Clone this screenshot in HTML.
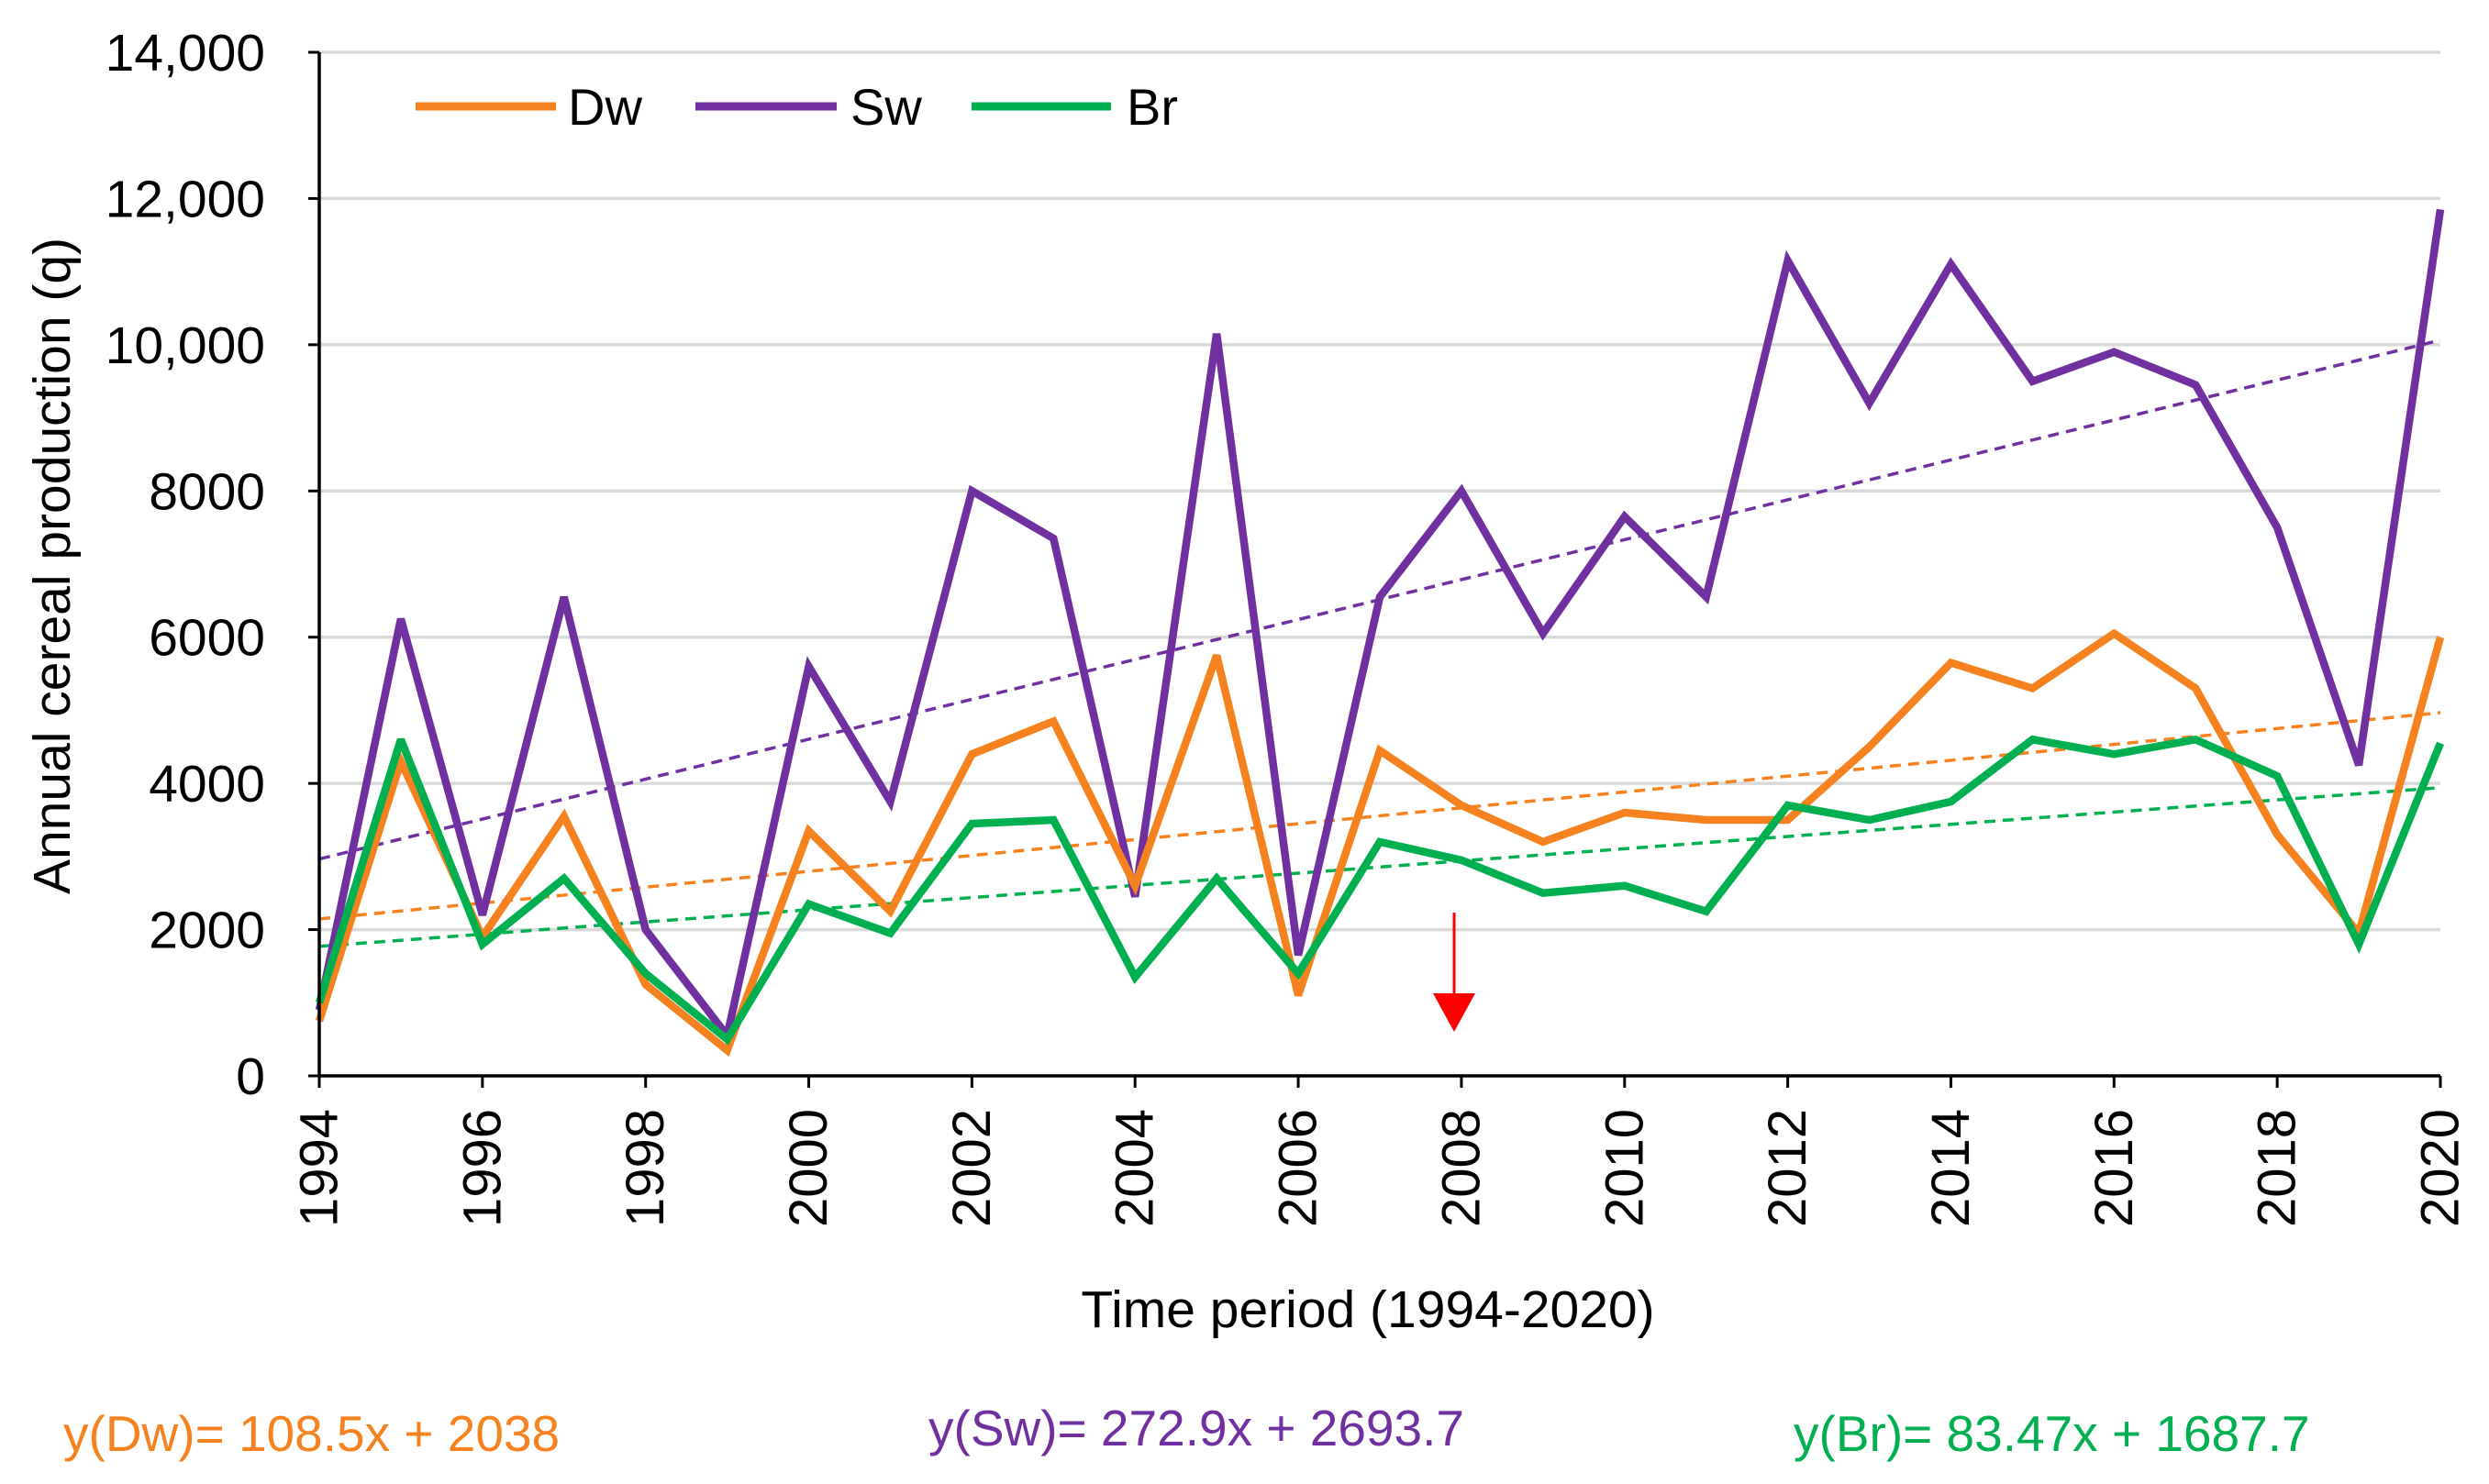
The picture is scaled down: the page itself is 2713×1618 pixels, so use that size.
<!DOCTYPE html>
<html><head><meta charset="utf-8"><style>
html,body{margin:0;padding:0;background:#fff;}
svg{display:block;font-family:"Liberation Sans","DejaVu Sans",sans-serif;}
</style></head><body>
<svg id="chart" width="2713" height="1618" viewBox="0 0 2713 1618">
<g id="grid"></g>
<g id="trends"></g>
<g id="series"></g>
<g id="axes"></g>
<text x="57" y="617" font-size="57" text-anchor="middle" transform="rotate(-90 57 617)" dominant-baseline="central" fill="#000">Annual cereal production (q)</text>
<text x="1491" y="1447" font-size="57" text-anchor="middle" fill="#000">Time period (1994-2020)</text>
<g>
<line x1="453" y1="116" x2="606" y2="116" stroke="#F5821F" stroke-width="9"/>
<text x="619" y="136" font-size="56" fill="#000">Dw</text>
<line x1="758" y1="116" x2="912" y2="116" stroke="#7030A0" stroke-width="9"/>
<text x="927" y="136" font-size="56" fill="#000">Sw</text>
<line x1="1059" y1="116" x2="1211" y2="116" stroke="#00B050" stroke-width="9"/>
<text x="1228" y="136" font-size="56" fill="#000">Br</text>
</g>
<g>
<line x1="1585" y1="995" x2="1585" y2="1090" stroke="#FF0000" stroke-width="3"/>
<polygon points="1562,1083 1608,1083 1585,1125" fill="#FF0000"/>
</g>
<text x="69" y="1582" font-size="55" fill="#F5821F">y(Dw)= 108.5x + 2038</text>
<text x="1012" y="1576" font-size="55" fill="#7030A0">y(Sw)= 272.9x + 2693.7</text>
<text x="1955" y="1582" font-size="55" fill="#00B050">y(Br)= 83.47x + 1687.7</text>
</svg>
<script>
const years = [1994,1995,1996,1997,1998,1999,2000,2001,2002,2003,2004,2005,2006,2007,2008,2009,2010,2011,2012,2013,2014,2015,2016,2017,2018,2019,2020];
const dwValues = [750,4300,1900,3550,1250,350,3350,2250,4400,4850,2600,5750,1100,4450,3700,3200,3600,3500,3500,4500,5650,5300,6050,5300,3300,1950,6000];
const swValues = [900,6250,2200,6550,2000,550,5600,3750,8000,7350,2450,10150,1650,6550,8000,6050,7650,6550,11150,9200,11100,9500,9900,9450,7500,4250,11850];
const brValues = [1000,4600,1800,2700,1400,500,2350,1950,3450,3500,1350,2700,1400,3200,2950,2500,2600,2250,3700,3500,3750,4600,4400,4600,4100,1800,4550];
const trendSlopes = [108.5,272.9,83.47];
const trendIntercepts = [2038,2693.7,1687.7];
const yTicks = [0,2000,4000,6000,8000,10000,12000,14000];
const yTickLabels = ["0","2000","4000","6000","8000","10,000","12,000","14,000"];
const xTickYears = [1994,1996,1998,2000,2002,2004,2006,2008,2010,2012,2014,2016,2018,2020];

const NS="http://www.w3.org/2000/svg";
const L=348,R=2660,T=57,B=1173;
const xs=y=>L+(y-1994)/(2020-1994)*(R-L);
const ys=v=>B-v/14000*(B-T);
function mk(tag,attrs,parent){const e=document.createElementNS(NS,tag);for(const k in attrs)e.setAttribute(k,attrs[k]);parent.appendChild(e);return e;}
const grid=document.getElementById('grid'),axes=document.getElementById('axes'),series=document.getElementById('series'),trends=document.getElementById('trends');
yTicks.forEach((v,i)=>{
  if(v>0){const g=mk('line',{x1:L,x2:R,y1:ys(v),y2:ys(v),stroke:'#d9d9d9','stroke-width':3.5},grid);
  
  }
  const t=mk('line',{x1:L-12,x2:L,y1:ys(v),y2:ys(v),stroke:'#000','stroke-width':3},axes);
  
  
  const tx=mk('text',{x:289,y:ys(v)+20,'font-size':57,'text-anchor':'end',fill:'#000'},axes);
  tx.textContent=yTickLabels[i];
  
  
});
const ya=mk('line',{x1:L,x2:L,y1:T,y2:B,stroke:'#000','stroke-width':3.5},axes);


const xa=mk('line',{x1:L,x2:R,y1:B,y2:B,stroke:'#000','stroke-width':3.5},axes);


xTickYears.forEach(y=>{
  const t=mk('line',{x1:xs(y),x2:xs(y),y1:B,y2:B+13,stroke:'#000','stroke-width':3},axes);
  
  
  const x=xs(y),yy=1209;
  const tx=mk('text',{x:x,y:yy,'font-size':58,'text-anchor':'end','dominant-baseline':'central',fill:'#000',transform:`rotate(-90 ${x} ${yy})`},axes);
  tx.textContent=String(y);
  
  
});
const colors=['#F5821F','#7030A0','#00B050'];
const names=['dw','sw','br'];
[dwValues,swValues,brValues].forEach((vals,k)=>{
  const n=years.length;
  const a=trendIntercepts[k]+trendSlopes[k]*1, b=trendIntercepts[k]+trendSlopes[k]*n;
  const tl=mk('line',{x1:xs(years[0]),y1:ys(a),x2:xs(years[n-1]),y2:ys(b),stroke:colors[k],'stroke-width':3.5,'stroke-dasharray':'12 8'},trends);
  
  
});
[swValues,dwValues,brValues].forEach((vals,j)=>{
  const k=[1,0,2][j];
  const pts=vals.map((v,i)=>xs(years[i])+','+ys(v)).join(' ');
  const pl=mk('polyline',{points:pts,fill:'none',stroke:colors[k],'stroke-width':8.5,'stroke-linejoin':'miter','stroke-miterlimit':3},series);
  
  
});
</script>
</body></html>
